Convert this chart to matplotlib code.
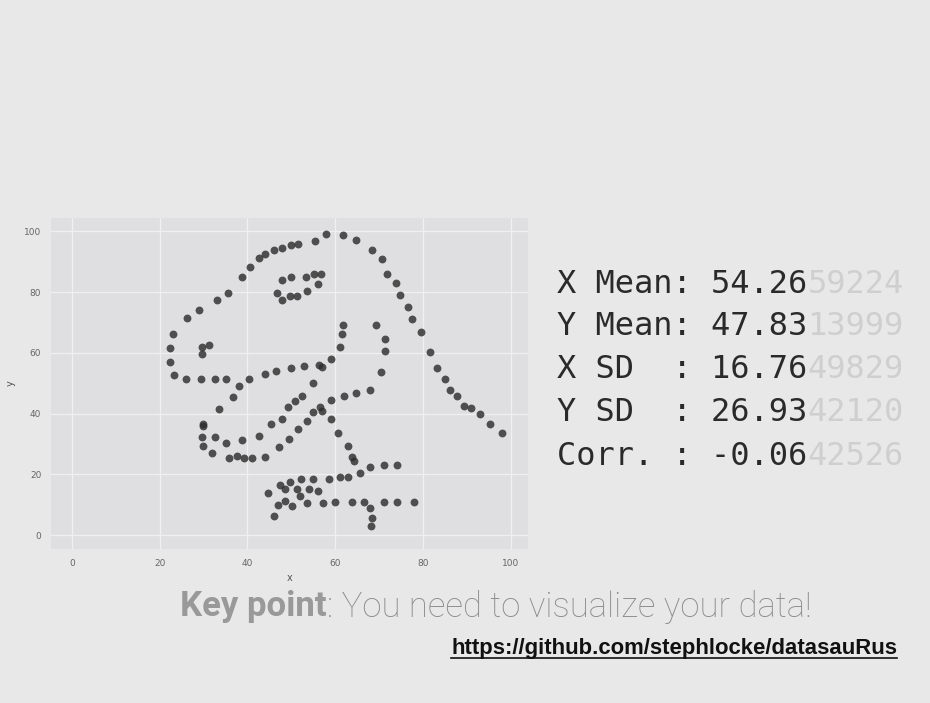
import matplotlib
matplotlib.use("Agg")
import matplotlib.pyplot as plt
from matplotlib.lines import Line2D

# points (datasaurus "dino")
x = [22.3, 22.3, 23.0, 26.2, 28.9, 33.1, 35.5, 38.7, 40.7, 42.7, 44.0, 46.1, 47.9, 49.9, 51.5,
     55.3, 57.9, 61.7, 64.7, 68.3, 70.7, 71.9, 73.8, 74.8, 76.6, 77.6, 79.6, 81.7, 83.2, 85.0,
     86.3, 87.7, 89.3, 91.1, 93.1, 95.3, 98.0,
     48.0, 49.9, 53.4, 55.2, 56.7, 56.0, 53.7, 51.3, 49.8, 47.9, 46.7,
     29.7, 31.3, 29.7,
     23.3, 25.9, 29.5, 32.7, 35.2, 40.3, 44.0, 46.5, 49.9, 53.0, 56.4, 57.1, 59.1, 61.2, 61.5, 61.7,
     69.4, 71.4, 71.4, 70.5, 67.9, 64.7, 62.1, 59.1,
     54.9, 52.5, 50.9, 49.3, 48.0, 45.4, 42.7, 38.7, 35.1, 32.5, 29.7, 29.9, 29.8, 29.9, 32.0,
     35.8, 37.6, 39.3, 41.0, 44.1, 47.2, 49.4, 51.5, 53.5, 55.0, 56.6, 56.9, 59.1, 60.6, 63.0,
     63.9, 64.2, 65.7, 67.9, 71.1, 74.0, 36.6, 38.1, 33.5,
     63.0, 61.1, 58.6, 55.0, 52.2, 49.6, 47.4, 48.6, 51.2, 54.0, 56.0, 52.0, 48.6, 47.0, 50.2,
     53.7, 57.3, 60.0, 63.9, 66.7, 67.9, 68.3, 68.1, 71.1, 74.1, 78.0, 44.8, 46.1]
y = [57.1, 61.6, 66.3, 71.3, 74.1, 77.3, 79.6, 84.8, 88.2, 91.3, 92.5, 93.9, 94.6, 95.5, 95.7,
     96.9, 99.2, 98.8, 97.2, 93.8, 90.9, 86.1, 82.9, 78.9, 75.1, 71.2, 66.7, 60.2, 55.1, 51.3,
     47.7, 45.9, 42.5, 41.7, 39.9, 36.7, 33.6,
     83.9, 84.9, 84.9, 85.9, 85.9, 82.7, 80.5, 78.6, 78.6, 77.3, 79.6,
     61.9, 62.6, 59.7,
     52.8, 51.4, 51.4, 51.4, 51.5, 51.5, 52.9, 54.0, 55.1, 55.5, 56.0, 55.4, 57.8, 61.9, 66.2, 69.0,
     69.3, 64.4, 60.6, 53.8, 47.9, 46.9, 45.9, 44.6,
     50.0, 45.9, 44.0, 42.2, 38.3, 36.5, 32.7, 31.4, 30.3, 32.3, 32.3, 36.5, 36.0, 29.3, 26.9,
     25.4, 26.0, 25.3, 25.4, 25.8, 28.9, 31.5, 34.9, 37.7, 40.5, 42.2, 40.9, 38.3, 33.7, 29.3,
     25.6, 24.4, 20.3, 22.3, 23.0, 23.1, 45.5, 49.1, 41.4,
     19.2, 19.2, 18.5, 18.4, 18.5, 17.5, 16.4, 15.1, 15.1, 15.1, 14.4, 12.9, 11.3, 10.0, 9.7,
     10.4, 10.4, 11.0, 11.0, 11.0, 9.0, 5.7, 3.1, 11.0, 11.0, 10.9, 13.8, 6.3]

ticks = [0, 20, 40, 60, 80, 100]

stat_dark = ["X Mean: 54.26", "Y Mean: 47.83", "X SD  : 16.76", "Y SD  : 26.93", "Corr. : -0.06"]
stat_light = ["59224", "13999", "49829", "42120", "42526"]

bg = "#e8e8e8"
fig = plt.figure(figsize=(9.3, 7.03), dpi=100, facecolor=bg)

ax = fig.add_axes([0.0548, 0.219, 0.513, 0.471])
ax.set_facecolor("#dfdfe2")
ax.scatter(x, y, s=32, color="#2e2e2e", alpha=0.82, linewidths=0, zorder=3)
ax.set_xlim(-4.8, 104)
ax.set_ylim(-4.6, 104.4)
ax.set_xticks(ticks)
ax.set_yticks(ticks)
ax.grid(True, color="#f0f0f0", linewidth=0.9)
ax.set_axisbelow(True)
for s in ax.spines.values():
    s.set_visible(False)
ax.tick_params(length=0, labelsize=6.5, labelcolor="#666666", pad=7)
ax.set_xlabel("x", fontsize=7, color="#555555", labelpad=4)
ax.set_ylabel("y", fontsize=7, color="#555555", labelpad=6)

# summary statistics
ys = [0.596, 0.535, 0.474, 0.413, 0.351]
for yy, d, l in zip(ys, stat_dark, stat_light):
    t = fig.text(0.599, yy, d, family="DejaVu Sans Mono", fontsize=23,
                 color="#2a2a2a", va="center")
    ax.annotate(l, xy=(1, 0.5), xycoords=t, va="center", ha="left",
                family="DejaVu Sans Mono", fontsize=23, color="#cfcfcf",
                annotation_clip=False)

# caption
k = fig.text(0.194, 0.137, "Key point", family="Roboto", fontweight="bold",
             fontsize=25, color="#999999", va="center")
ax.annotate(": You need to visualize your data!", xy=(1, 0.5), xycoords=k,
            va="center", ha="left", family="Roboto", fontweight="light",
            fontsize=25, color="#8c8c8c", annotation_clip=False)

link = fig.text(0.965, 0.077, "https://github.com/stephlocke/datasauRus",
                family="Liberation Sans", fontweight="bold", fontsize=15.9,
                color="#111111", ha="right", va="center")

fig.canvas.draw()
bb = link.get_window_extent()
fig.add_artist(Line2D([bb.x0, bb.x1], [bb.y0 + 1, bb.y0 + 1], transform=None,
                      color="#111111", linewidth=1.2))

fig.savefig("out.png", dpi=100, facecolor=bg)
